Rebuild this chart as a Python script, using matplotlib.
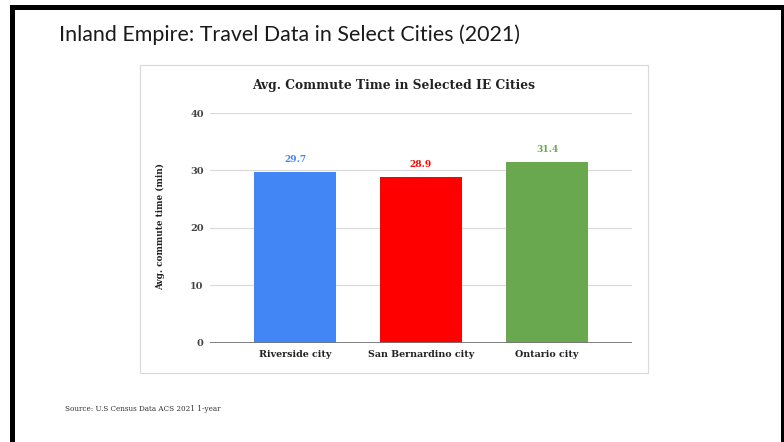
import matplotlib.pyplot as plt
from matplotlib.patches import Rectangle

# ---------------------------------------------------------------------------
cities  = ["Riverside city", "San Bernardino city", "Ontario city"]
commute = [29.7, 28.9, 31.4]
colors  = ["#4285f4", "#ff0000", "#6aa84f"]
yticks  = [0, 10, 20, 30, 40]

W, H = 784, 442
SERIF = ["DejaVu Serif"]

fig = plt.figure(figsize=(W / 100, H / 100), dpi=100)
fig.patch.set_facecolor("white")


def px_rect(x0, y0, x1, y1, **kw):
    """Rectangle given in pixel coords (origin top-left)."""
    r = Rectangle((x0 / W, 1 - y1 / H), (x1 - x0) / W, (y1 - y0) / H,
                  transform=fig.transFigure, **kw)
    fig.add_artist(r)
    return r


# slide frame
px_rect(10, 5, 784, 10, color="black", lw=0)
px_rect(10, 5, 15, 442, color="black", lw=0)
px_rect(781, 5, 784, 442, color="black", lw=0)

# slide title and footnote
fig.text(59 / W, 1 - 35 / H, "Inland Empire: Travel Data in Select Cities (2021)",
         family=["Lato", "DejaVu Sans"], fontsize=15.4, color="#1a1a1a",
         ha="left", va="center")
fig.text(65 / W, 1 - 409 / H, "Source: U.S Census Data ACS 2021 1-year",
         family=SERIF, fontsize=5.2, color="#333333", ha="left", va="center")

# chart card
px_rect(140, 65, 648, 373, facecolor="white", edgecolor="#d9d9d9", lw=0.8,
        zorder=0)

fig.text(394 / W, 1 - 85 / H, "Avg. Commute Time in Selected IE Cities",
         family=SERIF, fontsize=8.8, fontweight="bold", color="#222222",
         ha="center", va="center")

# ---------------------------------------------------------------------------
ax = fig.add_axes([210 / W, 1 - 342.7 / H, 422 / W, (342.7 - 113) / H])
ax.set_zorder(5)
x = range(len(cities))
bars = ax.bar(x, commute, width=0.65, color=colors, zorder=3)

for b, v, c in zip(bars, commute, colors):
    ax.text(b.get_x() + b.get_width() / 2, v + 2.2, f"{v:.1f}",
            ha="center", va="center", family=SERIF, fontsize=6.5,
            fontweight="bold", color=c)

ax.set_xlim(-0.675, 2.675)
ax.set_ylim(0, 40)
ax.set_yticks(yticks)
ax.set_yticklabels([str(t) for t in yticks], family=SERIF, fontsize=7,
                   fontweight="bold", color="#444444")
ax.set_xticks(list(x))
ax.set_xticklabels(cities, family=SERIF, fontsize=6.8, fontweight="bold",
                   color="#222222")
ax.tick_params(axis="y", length=0, pad=4.5)
ax.tick_params(axis="x", length=0, pad=5)
ax.grid(axis="y", color="#d9d9d9", lw=0.8, zorder=0)
ax.axhline(0, color="#777777", lw=1.3, zorder=4)
for s in ax.spines.values():
    s.set_visible(False)
ax.set_facecolor("none")

fig.text(161 / W, 1 - 227 / H, "Avg. commute time (min)", rotation=90,
         family=SERIF, fontsize=6.4, fontweight="bold", color="#222222",
         ha="center", va="center")

fig.savefig("out.png", dpi=100)
